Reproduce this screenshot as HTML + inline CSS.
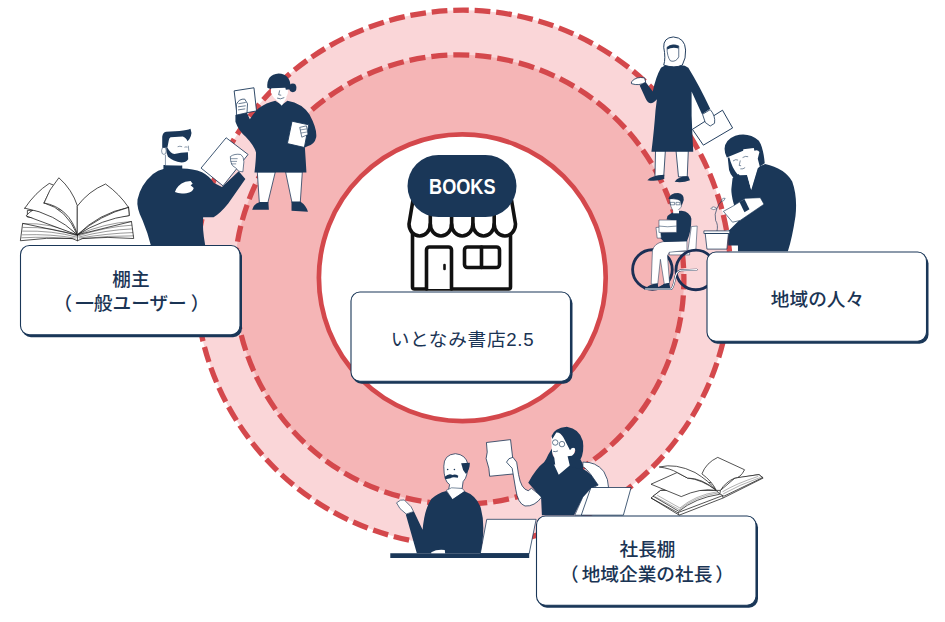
<!DOCTYPE html>
<html lang="ja">
<head>
<meta charset="utf-8">
<title>いとなみ書店2.5</title>
<style>
html,body{margin:0;padding:0;background:#fff;}
body{width:945px;height:622px;overflow:hidden;position:relative;font-family:"Liberation Sans","Noto Sans CJK JP",sans-serif;}
svg{position:absolute;left:0;top:0;display:block;}
.lbl{font-family:"Liberation Sans","Noto Sans CJK JP",sans-serif;font-size:18.67px;fill:#1a3454;text-anchor:middle;font-weight:500;}
.nv{fill:#1a3758;}
.wh{fill:#fff;stroke:#1a3758;stroke-width:1.2;stroke-linejoin:round;}
</style>
</head>
<body>
<svg width="945" height="622" viewBox="0 0 945 622">
<!-- rings -->
<g id="rings">
<circle cx="463.100" cy="277.900" r="267.700" fill="#fad6d8" stroke="#d4484c" stroke-width="5.300" stroke-dasharray="15.700 5.864" stroke-dashoffset="21.220"/>
<circle cx="459.100" cy="279.600" r="224.800" fill="#f5b5b6" stroke="#d4484c" stroke-width="5.300" stroke-dasharray="16.100 5.970" stroke-dashoffset="6.284"/>
<circle cx="462.300" cy="277.800" r="143.400" fill="#fff" stroke="#d4484c" stroke-width="4.700"/>
</g>
<!-- store -->
<g id="store">
<g fill="#fff" stroke="#111" stroke-width="3.6" stroke-linejoin="round" stroke-linecap="round">
<path d="M412.500 228 V287 a2 2 0 0 0 2 2 H508.500 a2 2 0 0 0 2 -2 V228 Z"/>
<path d="M426.500 289 V250 a3 3 0 0 1 3 -3 H448.500 a3 3 0 0 1 3 3 V289"/>
<rect x="464.500" y="247" width="35" height="20.500" rx="3"/>
<path d="M481.500 247 V267.500" fill="none"/>
<path d="M444.500 265 V269" fill="none" stroke-width="2.600"/>
<path d="M413 200 L409 224 a10.650 12 0 0 0 21.300 0 a10.650 12 0 0 0 21.300 0 a10.650 12 0 0 0 21.300 0 a10.650 12 0 0 0 21.300 0 a10.650 12 0 0 0 21.300 0 L511.500 200 Z"/>
<path d="M430.300 226 V214 M451.600 226 V214 M472.900 226 V214 M494.200 226 V214" fill="none"/>
</g>
<rect x="407.500" y="155" width="109" height="62" rx="31" fill="#1a3758"/>
<text x="462.300" y="194" text-anchor="middle" textLength="66.500" lengthAdjust="spacingAndGlyphs" style="font-family:'Liberation Sans',sans-serif;font-weight:700;font-size:21.300px;fill:#fff">BOOKS</text>
</g>
<!-- FIGURES -->
<g id="book1" transform="translate(10,160) scale(0.14815)" fill="#fff" stroke="#1a1a1a" stroke-width="5.200" stroke-linejoin="round" stroke-linecap="round">
<path d="M85 430 L70 545 Q250 520 420 530 L455 545 L490 530 Q660 515 835 530 L820 415 L455 505 Z"/>
<path d="M455 505 L455 545" fill="none"/>
<path d="M85 430 Q280 420 455 505 M88 455 Q290 450 452 512 M86 480 Q290 475 448 520 M84 505 Q280 498 440 528 M80 525 Q270 515 425 532 M820 415 Q640 425 455 505 M822 440 Q650 450 460 512 M825 465 Q650 472 465 520 M828 490 Q660 495 470 527 M832 512 Q670 510 485 531" fill="none" stroke-width="3"/>
<path d="M120 385 Q300 380 455 505 Q620 380 805 375 L800 320 L770 330 L120 340 Z" />
<path d="M110 375 Q130 350 160 335 Q330 370 455 505 Z"/>
<path d="M100 325 Q170 220 265 158 L300 172 Q250 230 230 290 Q380 330 455 505 Q300 360 100 325 Z"/>
<path d="M230 290 Q260 200 330 120 Q420 200 455 310 L455 505 Q400 320 230 290 Z"/>
<path d="M455 310 Q530 210 645 162 Q740 230 800 320 Q600 360 455 505 Z"/>
<path d="M800 320 L805 375 Q620 400 455 505 Q610 370 800 320 Z"/>
</g>
<g id="man1" transform="translate(130,120) scale(0.20900)">
<path class="nv" d="M160 215 L250 218 L250 232 Q300 232 345 250 Q380 268 400 300 L440 320 L520 245 L552 282 L470 400 Q430 450 400 465 L350 465 Q345 520 360 600 L100 600 Q85 540 60 480 Q30 420 36 380 Q50 310 110 258 Q135 240 160 235 Z"/>
<path d="M215 345 Q225 310 265 295 L290 292 L300 305 L290 312 L305 325 Q300 345 270 350 Q235 355 215 345 Z" fill="#fff"/>
<path d="M460 85 L565 165 L445 315 L340 230 Z" fill="#fff" stroke="#1a3758" stroke-width="4"/>
<path d="M480 175 Q500 160 530 165 Q545 175 545 200 L540 248 L520 245 L505 228 Q480 220 480 175 Z" fill="#fff" stroke="#1a3758" stroke-width="3"/>
<path d="M482 185 H515 M482 198 H512 M484 210 H508" fill="none" stroke="#1a3758" stroke-width="2.500"/>
</g>
<g id="man1head" transform="translate(150,120) scale(0.12853)">
<path d="M118 180 L150 135 L295 160 L300 245 L295 310 L240 352 L120 352 Z" fill="#fff"/>
<ellipse cx="108" cy="240" rx="18" ry="28" fill="#fff" stroke="#1a3758" stroke-width="4"/>
<path d="M120 270 V350" stroke="#1a3758" stroke-width="4" fill="none"/>
<path class="nv" d="M95 215 L95 130 Q100 95 125 92 L230 85 Q290 80 315 68 Q328 100 318 125 Q310 150 292 165 Q280 135 255 128 L160 135 Q148 140 146 160 L135 215 Z"/>
<path class="nv" d="M126 215 L136 215 Q160 260 190 265 Q240 250 295 250 L297 305 Q280 330 245 330 Q180 320 140 285 Q126 260 126 215 Z"/>
<path d="M215 208 Q232 200 250 208 M268 212 Q280 206 292 212 M298 200 L302 240" stroke="#1a3758" stroke-width="4" fill="none"/>
</g>
<g id="woman1" transform="translate(220,60) scale(0.25723)">
<path d="M145 435 L215 435 L186 555 L153 555 Z M255 435 L320 435 L312 555 L280 555 Z" fill="#fff" stroke="#1a3758" stroke-width="3"/>
<path class="nv" d="M125 582 Q130 560 155 552 L188 552 L190 582 Z M278 550 L312 550 Q335 565 342 590 L278 586 Z"/>
<path d="M55 120 L132 108 L142 198 L66 212 Z" fill="#fff" stroke="#1a3758" stroke-width="3.500"/>
<path class="nv" d="M150 188 Q180 165 215 158 L240 175 L262 158 Q320 168 348 212 Q378 268 374 300 Q368 328 340 335 L330 340 Q334 400 336 437 L134 437 Q140 390 140 360 Q135 335 100 298 Q72 275 60 240 L60 214 L104 203 L116 230 Q135 202 150 188 Z"/>
<path d="M64 172 Q74 150 96 152 L107 170 L105 205 L64 214 Z" fill="#fff" stroke="#1a3758" stroke-width="3"/>
<path d="M72 170 L100 165 M70 182 L100 178 M70 194 L98 190" fill="none" stroke="#1a3758" stroke-width="2.500"/>
<path d="M198 100 L264 100 L264 128 Q258 152 234 162 Q205 152 198 125 Z" fill="#fff"/>
<path d="M214 148 L260 145 L240 178 Z" fill="#fff"/>
<path d="M232 118 L228 135 L238 137 M222 148 Q235 155 250 146" fill="none" stroke="#1a3758" stroke-width="2.500"/>
<path class="nv" d="M184 108 Q180 55 228 52 Q272 55 274 100 L274 114 L256 116 L254 108 L200 110 L198 114 Z"/>
<ellipse class="nv" cx="283" cy="108" rx="14" ry="17"/>
<path d="M280 238 L345 252 L328 340 L262 325 Z" fill="#fff" stroke="#1a3758" stroke-width="3.500"/>
<path d="M310 262 L336 256 L342 290 L318 300 Z" fill="#fff" stroke="#1a3758" stroke-width="2.500"/>
<path d="M312 272 L336 268 M314 284 L338 280" fill="none" stroke="#1a3758" stroke-width="2"/>
</g>
<g id="hijab" transform="translate(620,20) scale(0.27330)">
<path d="M130 478 L166 478 L160 572 L128 572 Z M205 478 L250 478 L246 574 L214 574 Z" fill="#fff" stroke="#1a3758" stroke-width="3"/>
<path class="nv" d="M100 586 Q115 568 162 566 L162 582 Q130 592 100 586 Z M200 592 Q215 570 250 572 L256 586 Q230 597 200 592 Z"/>
<path d="M265 400 L375 330 L412 395 L305 458 Z" fill="#fff" stroke="#1a3758" stroke-width="3.500"/>
<path class="nv" d="M150 175 Q170 160 200 170 Q230 160 250 175 Q290 240 330 325 L300 345 L262 262 L262 350 Q265 420 268 482 L115 482 Q125 400 130 330 L135 290 Q110 320 95 290 L72 240 L92 225 L120 262 Q130 210 150 175 Z"/>
<path d="M42 226 Q60 205 90 212 L94 228 Q70 242 42 233 Z" fill="#fff" stroke="#1a3758" stroke-width="3"/>
<path d="M302 345 L330 328 Q350 350 346 378 L330 388 L312 375 Z" fill="#fff" stroke="#1a3758" stroke-width="3"/>
<path d="M160 100 Q158 65 195 62 Q238 65 240 110 Q242 140 228 165 Q200 178 160 165 Q168 140 160 100 Z" fill="#fff" stroke="#1a3758" stroke-width="3.500"/>
<path d="M172 100 Q190 85 215 95 L215 135 Q205 155 185 150 Q172 135 172 100 Z" fill="#fff" stroke="#1a3758" stroke-width="2.500"/>
<path d="M172 100 Q190 85 215 95 L214 104 Q190 98 173 108 Z" class="nv"/>
</g>
<g id="bigwoman" transform="translate(700,125) scale(0.21697)">
<path class="nv" d="M150 245 Q165 230 180 225 L215 225 L235 295 L265 195 L300 180 Q390 200 425 260 Q450 330 440 420 Q425 520 405 582 L175 582 L175 555 L130 555 L130 490 L180 440 Q140 330 145 290 Z"/>
<g transform="translate(69.100,0) scale(0.51860)">
<path d="M125 290 L250 222 L348 208 Q385 215 392 245 L380 305 L398 368 L380 385 L322 578 L288 445 L220 447 Q160 400 125 290 Z" fill="#fff"/>
<path class="nv" d="M85 210 Q90 130 180 95 Q300 60 390 140 Q430 200 442 340 L398 368 L380 300 L395 240 Q380 215 350 228 L345 205 L252 215 L250 228 L105 288 Q85 250 85 210 Z"/>
<path class="nv" d="M113 288 L128 288 Q150 380 205 445 L165 470 Q135 440 125 400 Z"/>
<path d="M160 320 Q185 300 205 312 M245 290 Q270 272 295 282 M225 315 L215 360 L232 362 M225 390 Q250 395 268 378" fill="none" stroke="#1a3758" stroke-width="5"/>
</g>
<path d="M210 338 L278 335 L295 365 L185 440 L150 448 L108 398 L150 375 Z" fill="#fff" stroke="#1a3758" stroke-width="3"/>
<path class="nv" d="M182 355 L205 342 L228 388 L205 402 Z"/>
<path d="M78 490 Q85 460 72 440 Q65 410 78 385 Q85 365 100 350" fill="none" stroke="#1a3758" stroke-width="3"/>
<path d="M78 385 Q60 370 50 385 Q62 395 78 385 Z M98 352 Q100 335 116 338 Q112 352 98 352 Z" fill="#fff" stroke="#1a3758" stroke-width="2.500"/>
<path d="M18 488 H137 V500 H18 Z M24 500 L131 500 L124 572 L32 572 Z" fill="#fff" stroke="#1a3758" stroke-width="3.500"/>
</g>
<g id="wheel" transform="translate(625,185) scale(0.17699)">
<circle cx="155" cy="478" r="112" fill="none" stroke="#1b2f55" stroke-width="16"/>
<path d="M375 235 L408 232 L400 372 L355 372 Z" fill="#fff" stroke="#1a3758" stroke-width="3"/>
<path d="M250 375 H365 V395 H250 Z" fill="#fff" stroke="#1a3758" stroke-width="3"/>
<circle cx="400" cy="480" r="112" fill="none" stroke="#1b2f55" stroke-width="16"/>
<path d="M350 315 L215 320 Q165 330 155 370 L148 560 L185 560 L200 420 L222 560 L252 556 L240 400 L250 380 L350 370 Z" fill="#fff" stroke="#1a3758" stroke-width="3"/>
<path class="nv" d="M120 582 Q135 560 185 555 L188 585 Z M190 585 Q205 560 250 552 L256 585 Z"/>
<path d="M115 588 L260 588 Q272 580 280 540 Q288 485 315 482 L405 478" fill="none" stroke="#1a3758" stroke-width="11" stroke-linecap="round"/>
<path d="M115 588 L260 588 Q272 580 280 540 Q288 485 315 482 L405 478" fill="none" stroke="#fff" stroke-width="6" stroke-linecap="round"/>
<path class="nv" d="M240 175 Q270 145 320 145 Q365 150 375 190 Q375 260 350 318 L220 322 L200 300 L195 270 L290 265 L290 200 L235 195 Z"/>
<path d="M175 240 L200 238 L205 300 L182 300 Z" fill="#fff" stroke="#1a3758" stroke-width="3"/>
<path d="M192 198 L292 198 L292 268 L192 268 Z" fill="#fff" stroke="#1a3758" stroke-width="3"/>
<path d="M192 232 Q240 240 292 232" fill="none" stroke="#1a3758" stroke-width="3"/>
<path d="M252 75 L315 85 L318 125 Q300 150 275 148 Q255 130 252 75 Z" fill="#fff" stroke="#1a3758" stroke-width="3"/>
<path d="M272 140 L305 140 L305 160 L272 160 Z" fill="#fff"/>
<path class="nv" d="M245 78 Q255 45 300 45 Q335 50 332 85 L320 118 L312 90 Q290 72 255 80 Z"/>
<path d="M255 98 h25 v14 h-25 Z M288 98 h22 v14 h-22 Z" fill="none" stroke="#1a3758" stroke-width="3"/>
</g>
<g id="desk" transform="translate(380,410) scale(0.25723)">
<path d="M415 425 L607 425 L580 558 L390 558 Z" fill="#fff" stroke="#1a3758" stroke-width="3"/>
<path class="nv" d="M40 557 H580 V575 H40 Z"/>
</g>
<g id="woman2" transform="translate(480,420) scale(0.16074)">
<path d="M640 262 Q720 258 770 320 Q800 370 800 422 L700 422 L735 405 L690 340 Q660 300 640 290 Z" fill="#fff" stroke="#1a3758" stroke-width="5"/>
<path d="M640 478 L690 425 L705 440 L650 592 L590 592 Z" fill="#fff" stroke="#1a3758" stroke-width="4"/>
<path d="M690 420 L940 420 L892 592 L630 592 Z" fill="#fff" stroke="#1a3758" stroke-width="5"/>
<path d="M40 140 L190 122 L215 335 L60 350 L55 300 L38 240 L45 200 Z" fill="#fff" stroke="#1a3758" stroke-width="5"/>
<path d="M165 262 Q175 235 205 232 L228 262 L240 340 Q255 430 300 440 L320 425 L385 478 Q340 540 280 535 Q235 520 222 430 L200 300 Q180 280 165 262 Z" fill="#fff" stroke="#1a3758" stroke-width="5"/>
<path class="nv" d="M470 275 L490 335 L555 275 Q640 290 690 340 L735 405 L690 425 L640 480 L585 592 L385 592 L380 480 L300 390 Q350 300 400 262 Q440 245 470 275 Z"/>
<path d="M446 100 L560 100 L592 180 L578 230 L562 280 L490 340 L458 272 L462 235 L446 195 Z" fill="#fff"/>
<path d="M445 110 Q455 75 490 70 L520 110 L540 165 L580 180 L572 225 L500 242 Q460 230 448 190 Z" fill="#fff"/>
<path class="nv" d="M445 100 Q460 50 540 42 Q620 55 640 130 Q650 200 625 245 Q645 275 640 310 L560 290 L545 225 L572 222 Q600 200 590 175 Q570 165 560 188 L520 110 Q500 75 475 78 L450 118 Z"/>
<path class="nv" d="M448 178 L425 215 Q410 250 398 264 L468 278 L462 235 Q445 215 448 178 Z"/>
<circle cx="468" cy="140" r="17" fill="none" stroke="#1a3758" stroke-width="4"/><circle cx="510" cy="150" r="17" fill="none" stroke="#1a3758" stroke-width="4"/>
<path d="M455 195 Q470 200 485 192" fill="none" stroke="#1a3758" stroke-width="4"/>
</g>
<g id="oldman" transform="translate(385,445) scale(0.19280)">
<path d="M305 110 Q305 50 365 45 Q420 50 430 100 L425 150 Q420 175 405 190 L400 228 L330 232 L335 205 Q305 190 305 110 Z" fill="#fff" stroke="#1a3758" stroke-width="4"/>
<path class="nv" d="M395 95 L440 92 Q440 130 420 150 L405 130 Z"/>
<path class="nv" d="M310 165 Q330 145 350 155 Q365 150 380 160 L378 170 Q350 165 340 172 L312 177 Z"/>
<circle class="nv" cx="325" cy="127" r="4"/><circle class="nv" cx="360" cy="127" r="4"/>
<path d="M318 235 L345 222 L400 225 L414 240 L350 284 Z" fill="#fff" stroke="#1a3758" stroke-width="3"/>
<path class="nv" d="M318 238 L350 282 L412 240 Q470 260 495 320 Q525 420 495 562 L165 562 L108 360 L150 345 L195 440 Q205 330 240 280 Q270 250 318 238 Z"/>
<path d="M60 300 Q80 280 100 285 L135 320 L148 345 L110 358 Q70 330 60 300 Z" fill="#fff" stroke="#1a3758" stroke-width="3.500"/>
<path d="M240 556 Q270 540 310 545 L312 562 L240 562 Z" fill="#fff"/>
</g>
<g id="book2" transform="translate(640,445) scale(0.13757)" fill="#fff" stroke="#1a1a1a" stroke-width="5.500" stroke-linejoin="round">
<path d="M80 385 L150 330 L865 215 L895 240 L605 385 L285 510 Z"/>
<path d="M80 385 L275 492 L600 368 L890 232 M285 510 L275 492 M605 385 L598 368" fill="none"/>
<path d="M150 330 L95 372 L282 482 Q400 385 580 358 L555 330 Z"/>
<path d="M110 375 L285 470 Q400 375 570 348 M125 365 L290 458 Q400 365 562 340" fill="none" stroke-width="2.500"/>
<path d="M690 240 L865 215 L890 238 L610 372 L580 355 L585 330 Z"/>
<path d="M600 340 Q700 280 860 228 M605 355 Q720 290 875 236" fill="none" stroke-width="2.500"/>
<path d="M80 285 L270 200 L345 240 Q450 250 555 330 Q440 310 300 375 Z"/>
<path d="M140 160 Q260 130 400 200 Q500 260 555 330 Q450 240 345 240 L270 200 Q220 170 140 160 Z"/>
<path d="M450 210 Q480 130 565 90 L760 180 Q730 240 690 240 Q620 270 585 330 L555 330 Q520 260 450 210 Z"/>
</g>
<!-- labels -->
<g id="labels">
<g id="l1"><rect x="22" y="248" width="220" height="89.200" rx="9" fill="#1a3758"/><rect x="20.500" y="245.500" width="219.500" height="89.200" rx="9" fill="#fff" stroke="#1a3758" stroke-width="1.100"/>
<text class="lbl" x="131" y="286">棚主</text><text class="lbl" x="134.500" y="309.500"><tspan dx="-3">（</tspan><tspan dx="3">一般ユーザー</tspan><tspan dx="4">）</tspan></text></g>
<g id="l2"><rect x="352.500" y="294.500" width="220" height="89.200" rx="9" fill="#1a3758"/><rect x="351" y="292" width="219.500" height="89.200" rx="9" fill="#fff" stroke="#1a3758" stroke-width="1.100"/>
<text class="lbl" x="462.500" y="345.500" style="font-weight:400;letter-spacing:0.7px">いとなみ書店2.5</text></g>
<g id="l3"><rect x="708.500" y="254.500" width="220" height="89.200" rx="9" fill="#1a3758"/><rect x="707" y="252" width="219.500" height="89.200" rx="9" fill="#fff" stroke="#1a3758" stroke-width="1.100"/>
<text class="lbl" x="817.500" y="305.500">地域の人々</text></g>
<g id="l4"><rect x="538" y="518.500" width="220" height="89.200" rx="9" fill="#1a3758"/><rect x="536.500" y="516" width="219.500" height="89.200" rx="9" fill="#fff" stroke="#1a3758" stroke-width="1.100"/>
<text class="lbl" x="647.500" y="556">社長棚</text><text class="lbl" x="650.500" y="580.500"><tspan dx="-3.5">（</tspan><tspan dx="3">地域企業の社長</tspan><tspan dx="3">）</tspan></text></g>
</g>
</svg>
</body>
</html>
